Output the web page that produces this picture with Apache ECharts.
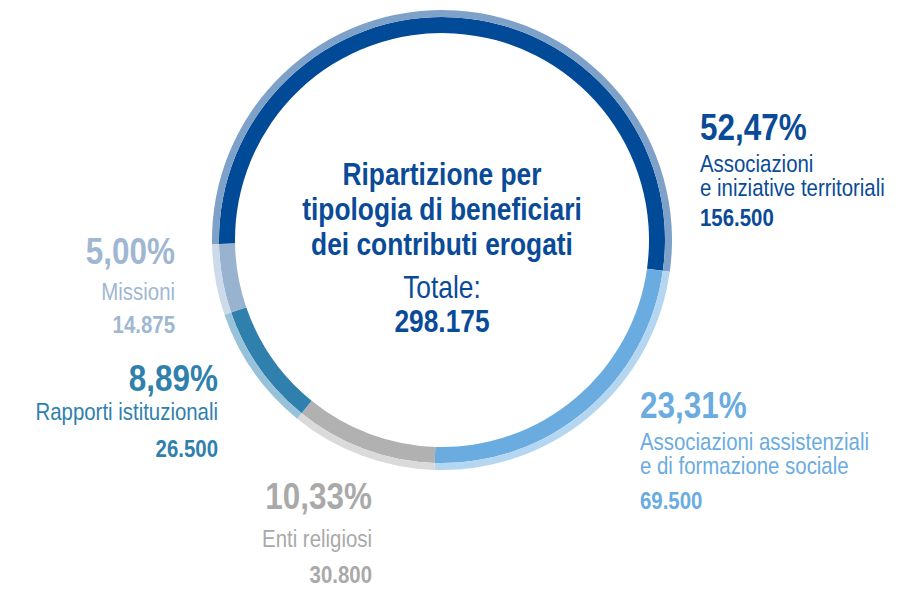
<!DOCTYPE html>
<html lang="it">
<head>
    <meta charset="UTF-8">
    <title>Ripartizione per tipologia di beneficiari</title>
    <style>
        html, body { margin: 0; padding: 0; background: #ffffff; }
        #main { width: 912px; height: 591px; }
    </style>
</head>
<body>
<div id="main"></div>

<script src="https://cdn.jsdelivr.net/npm/echarts@6/dist/echarts.min.js"></script>
<script>
    // dati del grafico
    var categorie = ['Associazioni\ne iniziative territoriali', 'Associazioni assistenziali\ne di formazione sociale', 'Enti religiosi', 'Rapporti istituzionali', 'Missioni'];
    var valori = [156500, 69500, 30800, 26500, 14875];
    var percentuali = ['52,47%', '23,31%', '10,33%', '8,89%', '5,00%'];
    var valoriTesto = ['156.500', '69.500', '30.800', '26.500', '14.875'];
    var titolo = ['Ripartizione per', 'tipologia di beneficiari', 'dei contributi erogati'];
    var totaleEtichetta = 'Totale:';
    var totaleTesto = '298.175';

    // colori: anello interno (scuro) e bordo esterno (chiaro)
    var coloriScuri = ['#004a97', '#6aace0', '#b1b1b1', '#2f80ad', '#98b3cf'];
    var coloriChiari = ['#7ea1c9', '#b5d6f1', '#dadada', '#98c1da', '#ccdae9'];
    var coloriTesto = ['#0a4b98', '#6aace0', '#a9a9a9', '#2f80ad', '#a0b7d2'];

    // posizione dei blocchi di testo (x, allineamento, y percentuale / nome / valore)
    var posizioni = [
        {x: 700, align: 'left', yp: 127, yn: 164, yv: 218},
        {x: 640, align: 'left', yp: 405, yn: 442, yv: 501},
        {x: 372, align: 'right', yp: 496, yn: 539, yv: 575},
        {x: 218, align: 'right', yp: 378, yn: 412, yv: 449},
        {x: 175, align: 'right', yp: 251, yn: 292, yv: 325}
    ];

    // font "condensato": Liberation Sans stretta in orizzontale
    var FONT = "'Liberation Sans', Arial, sans-serif";
    var STRETTO = 0.85;
    var CX = 442, CY = 240;

    var datiScuri = [];
    var datiChiari = [];
    valori.forEach(function (v, i) {
        datiScuri.push({name: categorie[i], value: v, itemStyle: {color: coloriScuri[i]}});
        datiChiari.push({name: categorie[i], value: v, itemStyle: {color: coloriChiari[i]}});
    });

    function testo(x, y, str, size, weight, color, align) {
        return {
            type: 'text', x: x, y: y, scaleX: STRETTO, silent: true,
            style: {
                text: str, fontFamily: FONT, fontSize: size, fontWeight: weight,
                fill: color, align: align, verticalAlign: 'middle'
            }
        };
    }

    var elementi = [];
    // testo al centro
    titolo.forEach(function (riga, k) {
        elementi.push(testo(CX, 174 + k * 35, riga, 31, 'bold', '#0a4b98', 'center'));
    });
    elementi.push(testo(CX, 287, totaleEtichetta, 31, 'normal', '#0a4b98', 'center'));
    elementi.push(testo(CX, 321, totaleTesto, 31, 'bold', '#0a4b98', 'center'));

    // etichette delle fette
    categorie.forEach(function (nome, i) {
        var p = posizioni[i];
        elementi.push(testo(p.x, p.yp, percentuali[i], 37, 'bold', coloriTesto[i], p.align));
        nome.split('\n').forEach(function (riga, k) {
            elementi.push(testo(p.x, p.yn + k * 24, riga, 24, 'normal', coloriTesto[i], p.align));
        });
        elementi.push(testo(p.x, p.yv, valoriTesto[i], 24, 'bold', coloriTesto[i], p.align));
    });

    var myChart = echarts.init(document.getElementById('main'), null, {renderer: 'svg'});

    var serieBase = {
        type: 'pie',
        center: [CX, CY],
        startAngle: 181,
        clockwise: true,
        silent: true,
        animation: false,
        label: {show: false},
        labelLine: {show: false},
        emphasis: {disabled: true},
        itemStyle: {borderWidth: 0}
    };

    var option = {
        backgroundColor: '#ffffff',
        animation: false,
        series: [
            Object.assign({}, serieBase, {name: 'anello', radius: [207, 223], data: datiScuri}),
            Object.assign({}, serieBase, {name: 'bordo', radius: [223, 230], data: datiChiari})
        ],
        graphic: elementi
    };

    myChart.setOption(option);
</script>
</body>
</html>
